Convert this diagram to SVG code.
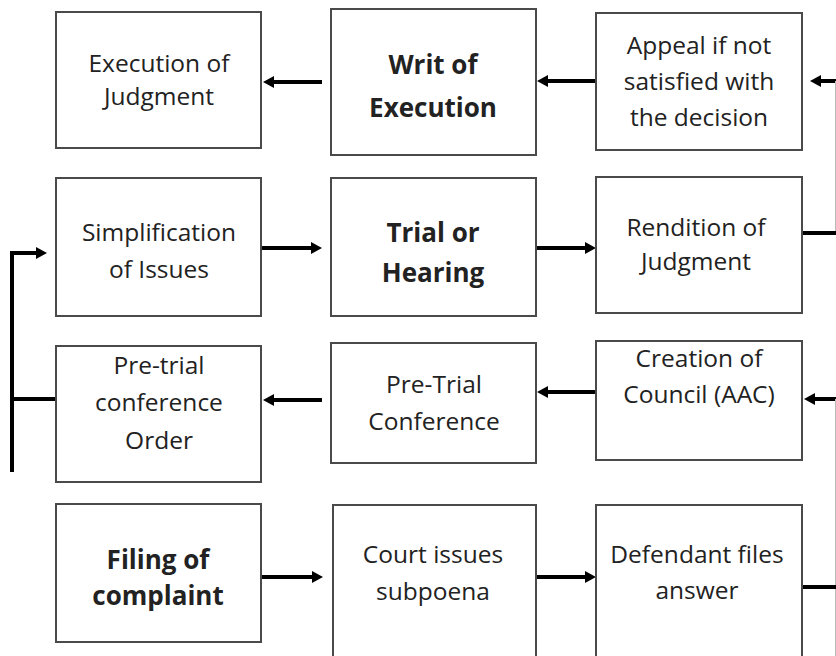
<svg xmlns="http://www.w3.org/2000/svg" width="836" height="656" viewBox="0 0 836 656">
<style>
.box{fill:#fff;stroke:#4a4a4a;stroke-width:2}
.t{font-family:"Open Sans","Noto Sans","DejaVu Sans",sans-serif;font-size:24.5px;fill:#222;text-anchor:middle}
.b{font-family:"Open Sans","Noto Sans","DejaVu Sans",sans-serif;font-size:26px;font-weight:bold;fill:#222;text-anchor:middle}
.c{fill:none;stroke:#000;stroke-width:4}
.ca{fill:none;stroke:#000;stroke-width:4;marker-end:url(#ah)}
.thin{fill:none;stroke:#bbb;stroke-width:1}
</style>
<defs>
<marker id="ah" markerUnits="userSpaceOnUse" markerWidth="11" markerHeight="12" refX="0" refY="6" orient="auto" viewBox="0 0 11 12">
<path d="M0,0 L11,6 L0,12 z" fill="#000"/>
</marker>
</defs>
<rect width="836" height="656" fill="#fff"/>

<g id="connectors">
<line class="ca" x1="836" y1="81" x2="821" y2="81"/>
<line class="thin" x1="835.5" y1="81" x2="835.5" y2="233"/>
<line class="ca" x1="596" y1="81" x2="548" y2="81"/>
<line class="ca" x1="322" y1="82" x2="274" y2="82"/>
<line class="ca" x1="262" y1="248" x2="311" y2="248"/>
<line class="ca" x1="536" y1="248" x2="585" y2="248"/>
<line class="c" x1="802" y1="233" x2="836" y2="233"/>
<line class="ca" x1="836" y1="399" x2="815" y2="399"/>
<line class="thin" x1="835.5" y1="399" x2="835.5" y2="656"/>
<line class="ca" x1="596" y1="392" x2="548" y2="392"/>
<line class="ca" x1="322" y1="400" x2="274" y2="400"/>
<line class="c" x1="55" y1="399" x2="12" y2="399"/>
<polyline class="ca" points="12,472 12,253 36,253"/>
<line class="ca" x1="262" y1="577" x2="312" y2="577"/>
<line class="ca" x1="536" y1="577" x2="585" y2="577"/>
<line class="c" x1="802" y1="587" x2="836" y2="587"/>
</g>

<g id="n-execution-of-judgment">
<rect class="box" x="56" y="12" width="205" height="136"/>
<text class="t" x="159" y="72">Execution of</text>
<text class="t" x="159" y="105">Judgment</text>
</g>
<g id="n-writ-of-execution">
<rect class="box" x="331" y="9" width="205" height="146"/>
<text class="b" x="433" y="74">Writ of</text>
<text class="b" x="433" y="117">Execution</text>
</g>
<g id="n-appeal">
<rect class="box" x="596" y="13" width="206" height="137"/>
<text class="t" x="699" y="54">Appeal if not</text>
<text class="t" x="699" y="90">satisfied with</text>
<text class="t" x="699" y="126">the decision</text>
</g>
<g id="n-simplification">
<rect class="box" x="56" y="178" width="205" height="138"/>
<text class="t" x="159" y="241">Simplification</text>
<text class="t" x="159" y="278">of Issues</text>
</g>
<g id="n-trial">
<rect class="box" x="331" y="178" width="205" height="138"/>
<text class="b" x="433" y="242">Trial or</text>
<text class="b" x="433" y="282">Hearing</text>
</g>
<g id="n-rendition">
<rect class="box" x="596" y="177" width="206" height="136"/>
<text class="t" x="696" y="236">Rendition of</text>
<text class="t" x="696" y="270">Judgment</text>
</g>
<g id="n-pretrial-order">
<rect class="box" x="56" y="346" width="205" height="136"/>
<text class="t" x="159" y="374">Pre-trial</text>
<text class="t" x="159" y="411">conference</text>
<text class="t" x="159" y="449">Order</text>
</g>
<g id="n-pretrial-conference">
<rect class="box" x="331" y="343" width="205" height="120"/>
<text class="t" x="434" y="393">Pre-Trial</text>
<text class="t" x="434" y="430">Conference</text>
</g>
<g id="n-creation">
<rect class="box" x="596" y="341" width="206" height="119"/>
<text class="t" x="699" y="367">Creation of</text>
<text class="t" x="699" y="403">Council (AAC)</text>
</g>
<g id="n-filing">
<rect class="box" x="56" y="504" width="205" height="138"/>
<text class="b" x="158" y="569">Filing of</text>
<text class="b" x="158" y="605">complaint</text>
</g>
<g id="n-court">
<rect class="box" x="333" y="505" width="203" height="160"/>
<text class="t" x="433" y="563">Court issues</text>
<text class="t" x="433" y="600">subpoena</text>
</g>
<g id="n-defendant">
<rect class="box" x="596" y="505" width="206" height="160"/>
<text class="t" x="697" y="563">Defendant files</text>
<text class="t" x="697" y="599">answer</text>
</g>
</svg>
